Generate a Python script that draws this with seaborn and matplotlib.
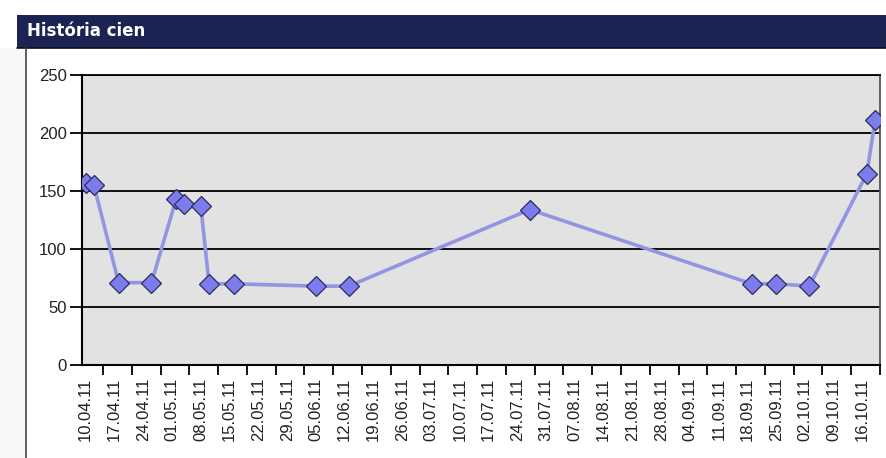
import matplotlib
matplotlib.use("Agg")
import matplotlib.pyplot as plt
import matplotlib.dates as mdates
from matplotlib.patches import Rectangle
from matplotlib.lines import Line2D
import seaborn as sns
import pandas as pd
import numpy as np

# ---- data ----
dates = ["2011-04-10", "2011-04-12", "2011-04-18", "2011-04-26", "2011-05-02",
         "2011-05-04", "2011-05-08", "2011-05-10", "2011-05-16", "2011-06-05",
         "2011-06-13", "2011-07-27", "2011-09-19", "2011-09-25", "2011-10-03",
         "2011-10-17", "2011-10-19"]
values = [157, 155, 71, 71, 143, 139, 137, 70, 70, 68, 68, 134, 70, 70, 68, 165, 211]
tick_start = "2011-04-10"
tick_end = "2011-10-16"
title = "História cien"
y_ticks = [0, 50, 100, 150, 200, 250]

df = pd.DataFrame({"date": pd.to_datetime(dates), "value": values})

sns.set_style("white")
plt.rcParams["font.family"] = ["Liberation Sans", "DejaVu Sans"]

fig = plt.figure(figsize=(8.87, 4.58), dpi=100)
fig.patch.set_facecolor("white")

# title bar
fig.add_artist(Rectangle((17 / 887, 1 - 48 / 458), 1 - 17 / 887, 33 / 458,
                         transform=fig.transFigure, facecolor="#1b2352",
                         edgecolor="none", zorder=0))
fig.add_artist(Line2D([17 / 887, 1], [1 - 48 / 458, 1 - 48 / 458],
                      transform=fig.transFigure, color="#0a0f2a", lw=1.2))
fig.text(27 / 887, 1 - 31 / 458, title, color="white", fontsize=12,
         fontweight="bold", family=["DejaVu Sans"], va="center", ha="left")
# left frame line and margin
fig.add_artist(Rectangle((0, 0), 26 / 887, 1 - 48 / 458, transform=fig.transFigure,
                         facecolor="#f8f8f6", edgecolor="none", zorder=0))
fig.add_artist(Line2D([26 / 887, 26 / 887], [0, 1 - 48 / 458],
                      transform=fig.transFigure, color="#444444", lw=1.2))

ax = fig.add_axes([82 / 887, 1 - 365 / 458, (880 - 82) / 887, (365 - 75) / 458])
ax.set_facecolor("#e2e2e2")

sns.lineplot(data=df, x="date", y="value", ax=ax, color="#9494e2", lw=2.6,
             marker="D", markersize=10, markerfacecolor="#7c7cee",
             markeredgecolor="#2c2c5c", markeredgewidth=0.9, zorder=3)

ax.set_ylim(0, 250)
ax.set_yticks(y_ticks)
ax.yaxis.grid(True, color="black", lw=1.3)
ax.set_axisbelow(True)

x0 = pd.Timestamp(tick_start)
ax.set_xlim(x0 - pd.Timedelta(days=0.9), x0 + pd.Timedelta(days=193.1))
label_dates = pd.date_range(tick_start, tick_end, freq="7D")
ax.set_xticks(label_dates)
ax.xaxis.set_major_formatter(mdates.DateFormatter("%d.%m.%y"))
minor = label_dates + pd.Timedelta(days=4.2)
ax.set_xticks(minor, minor=True)
ax.tick_params(axis="x", which="major", length=0, rotation=90, labelsize=12,
               pad=9, colors="#222222")
ax.tick_params(axis="x", which="minor", length=7, width=1.3, color="black",
               direction="out", bottom=True)
ax.tick_params(axis="y", length=9, width=1.3, color="black", labelsize=12,
               pad=2, colors="#222222", left=True)
for lab in ax.get_xticklabels():
    lab.set_va("top")
    lab.set_ha("center")

ax.set_xlabel("")
ax.set_ylabel("")
for s in ["left", "bottom"]:
    ax.spines[s].set_color("black")
    ax.spines[s].set_linewidth(1.5)
ax.spines["top"].set_color("black")
ax.spines["top"].set_linewidth(1.3)
ax.spines["right"].set_color("#555555")
ax.spines["right"].set_linewidth(1.3)

fig.savefig("out.png", dpi=100)
